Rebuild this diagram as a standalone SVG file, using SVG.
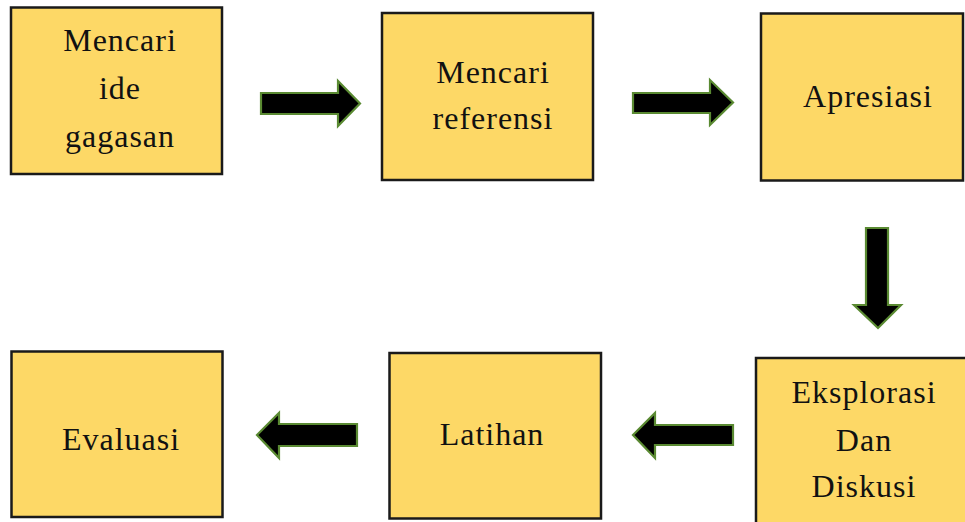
<svg xmlns="http://www.w3.org/2000/svg" width="965" height="522" viewBox="0 0 965 522">
<style>
.box{fill:#FDD866;stroke:#1a1a1a;stroke-width:2.5}
.lbl{font-family:"Liberation Serif",serif;font-size:32px;letter-spacing:1px;fill:#111;text-anchor:middle}
.arr{fill:#000;stroke:#5A8A32;stroke-width:2.2;stroke-linejoin:miter}
</style>
<rect width="965" height="522" fill="#fff"/>
<g id="node-mencari-ide">
<rect class="box" x="11" y="7.5" width="211" height="166.5"/>
<text class="lbl" x="120" y="51">Mencari</text>
<text class="lbl" x="120" y="99">ide</text>
<text class="lbl" x="120" y="147">gagasan</text>
</g>
<g id="node-mencari-referensi">
<rect class="box" x="382" y="13" width="211" height="167"/>
<text class="lbl" x="493" y="83">Mencari</text>
<text class="lbl" x="493" y="129">referensi</text>
</g>
<g id="node-apresiasi">
<rect class="box" x="761" y="13.5" width="202" height="167"/>
<text class="lbl" x="868" y="107">Apresiasi</text>
</g>
<g id="node-eksplorasi">
<rect class="box" x="756" y="358" width="220" height="180"/>
<text class="lbl" x="864" y="403">Eksplorasi</text>
<text class="lbl" x="864" y="451">Dan</text>
<text class="lbl" x="864" y="497">Diskusi</text>
</g>
<g id="node-latihan">
<rect class="box" x="389.5" y="353" width="211.5" height="165.5"/>
<text class="lbl" x="492" y="445">Latihan</text>
</g>
<g id="node-evaluasi">
<rect class="box" x="11.5" y="351.5" width="211" height="165.5"/>
<text class="lbl" x="121" y="450">Evaluasi</text>
</g>
<g id="connectors">
<polygon class="arr" points="261,93 338,93 338,81 360,103.5 338,126 338,114 261,114"/>
<polygon class="arr" points="633,93 710,93 710,80 733,102.5 710,125 710,113 633,113"/>
<polygon class="arr" points="866,228 888,228 888,305 901,305 878,328 854,305 866,305"/>
<polygon class="arr" points="733,425 655,425 655,413 633,435 655,458 655,445 733,445"/>
<polygon class="arr" points="357,424 279,424 279,413 257,435 279,458 279,446 357,446"/>
</g>
</svg>
